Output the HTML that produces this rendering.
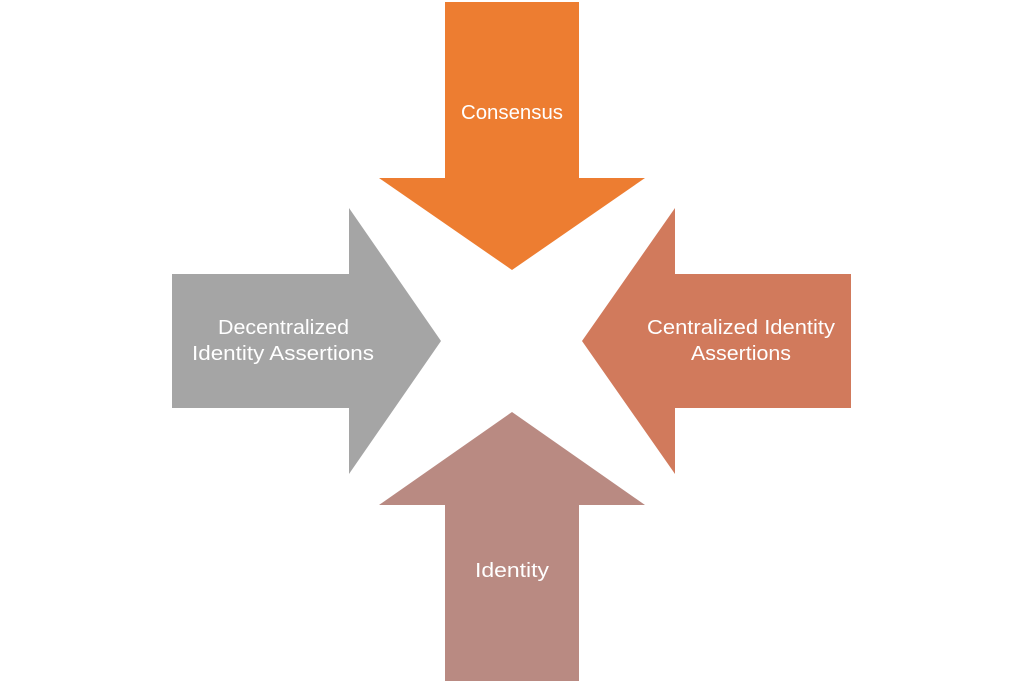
<!DOCTYPE html>
<html><head><meta charset="utf-8"><style>
html,body{margin:0;padding:0;background:#fff;}
svg{display:block;}
text{font-family:"Liberation Sans",sans-serif;font-size:20px;fill:#fff;}
</style></head><body>
<svg width="1024" height="683" viewBox="0 0 1024 683">
<polygon points="445,2 579,2 579,178 645,178 512,270 379,178 445,178" fill="#ED7D31"/>
<polygon points="172,274 349,274 349,208 441,341 349,474 349,408 172,408" fill="#A5A5A5"/>
<polygon points="851,274 675,274 675,208 582,341 675,474 675,408 851,408" fill="#D17A5C"/>
<polygon points="445,681 579,681 579,505 645,505 512,412 379,505 445,505" fill="#B98A82"/>
<text x="461" y="119" textLength="102" lengthAdjust="spacingAndGlyphs">Consensus</text>
<text x="218" y="334" textLength="131" lengthAdjust="spacingAndGlyphs">Decentralized</text>
<text x="192" y="360" textLength="182" lengthAdjust="spacingAndGlyphs">Identity Assertions</text>
<text x="647" y="334" textLength="188" lengthAdjust="spacingAndGlyphs">Centralized Identity</text>
<text x="691" y="360" textLength="100" lengthAdjust="spacingAndGlyphs">Assertions</text>
<text x="475" y="577" textLength="74" lengthAdjust="spacingAndGlyphs">Identity</text>
</svg>
</body></html>
